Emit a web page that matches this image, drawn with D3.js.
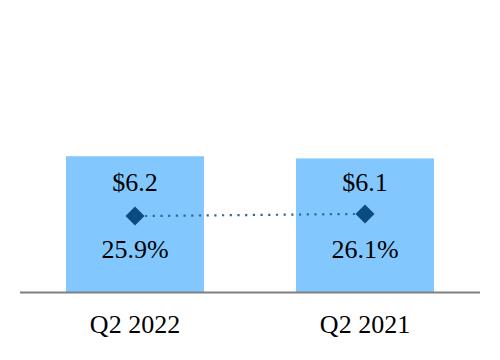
<!DOCTYPE html>
<html>
<head>
<meta charset="utf-8">
<script src="https://cdn.jsdelivr.net/npm/d3@7"></script>
<style>
  body { margin: 0; background: #fff; }
  svg { display: block; }
</style>
</head>
<body>
<div id="chart"></div>
<script>
// dữ liệu
const quarters = ["Q2 2022", "Q2 2021"];
const revenue = [6.2, 6.1];
const margins = [25.9, 26.1];

const width = 500, height = 360;
const font = "'Liberation Serif', 'Times New Roman', serif";

const svg = d3.select("#chart").append("svg")
    .attr("width", width)
    .attr("height", height);

// thang đo
const x = d3.scaleBand().domain(quarters).range([20, 480]).paddingInner(0.4).paddingOuter(0.2);
const y = d3.scaleLinear().domain([0, 10]).range([292, 73]);
const yPct = d3.scaleLinear().domain([20, 30]).range([275, 175]);

// cột
svg.selectAll("rect.bar")
    .data(quarters)
    .enter()
    .append("rect")
    .attr("class", "bar")
    .attr("x", d => x(d))
    .attr("y", (d, i) => y(revenue[i]))
    .attr("width", x.bandwidth())
    .attr("height", (d, i) => y(0) - y(revenue[i]))
    .attr("fill", "#82C8FF");

// đường chấm nối
const cx = d => x(d) + x.bandwidth() / 2;
svg.append("line")
    .attr("x1", cx(quarters[0]) + 10)
    .attr("y1", yPct(margins[0]))
    .attr("x2", cx(quarters[1]) - 10)
    .attr("y2", yPct(margins[1]))
    .attr("stroke", "#2A6A9A")
    .attr("stroke-width", 2.2)
    .attr("stroke-dasharray", "2.2,5.5");

// hình thoi
svg.selectAll("path.marker")
    .data(quarters)
    .enter()
    .append("path")
    .attr("class", "marker")
    .attr("transform", (d, i) => `translate(${cx(d)},${yPct(margins[i])})`)
    .attr("d", "M0,-9.5L9.5,0L0,9.5L-9.5,0Z")
    .attr("fill", "#0B4C80");

// nhãn giá trị
svg.selectAll("text.val")
    .data(quarters)
    .enter()
    .append("text")
    .attr("class", "val")
    .attr("x", d => cx(d))
    .attr("y", y(0) - 101)
    .attr("text-anchor", "middle")
    .style("font-family", font)
    .style("font-size", "26px")
    .attr("fill", "#000")
    .text((d, i) => "$" + revenue[i].toFixed(1));

svg.selectAll("text.pct")
    .data(quarters)
    .enter()
    .append("text")
    .attr("class", "pct")
    .attr("x", d => cx(d))
    .attr("y", y(0) - 34)
    .attr("text-anchor", "middle")
    .style("font-family", font)
    .style("font-size", "26px")
    .attr("fill", "#000")
    .text((d, i) => margins[i].toFixed(1) + "%");

// trục
const axis = svg.append("g")
    .attr("transform", `translate(0,${y(0)})`)
    .call(d3.axisBottom(x).tickSize(0).tickPadding(23));
axis.select(".domain")
    .attr("d", "M20,0.5H480")
    .attr("stroke", "#7F7F7F")
    .attr("stroke-width", 2);
axis.selectAll("text")
    .style("font-family", font)
    .style("font-size", "26px")
    .attr("fill", "#000");
</script>
</body>
</html>
